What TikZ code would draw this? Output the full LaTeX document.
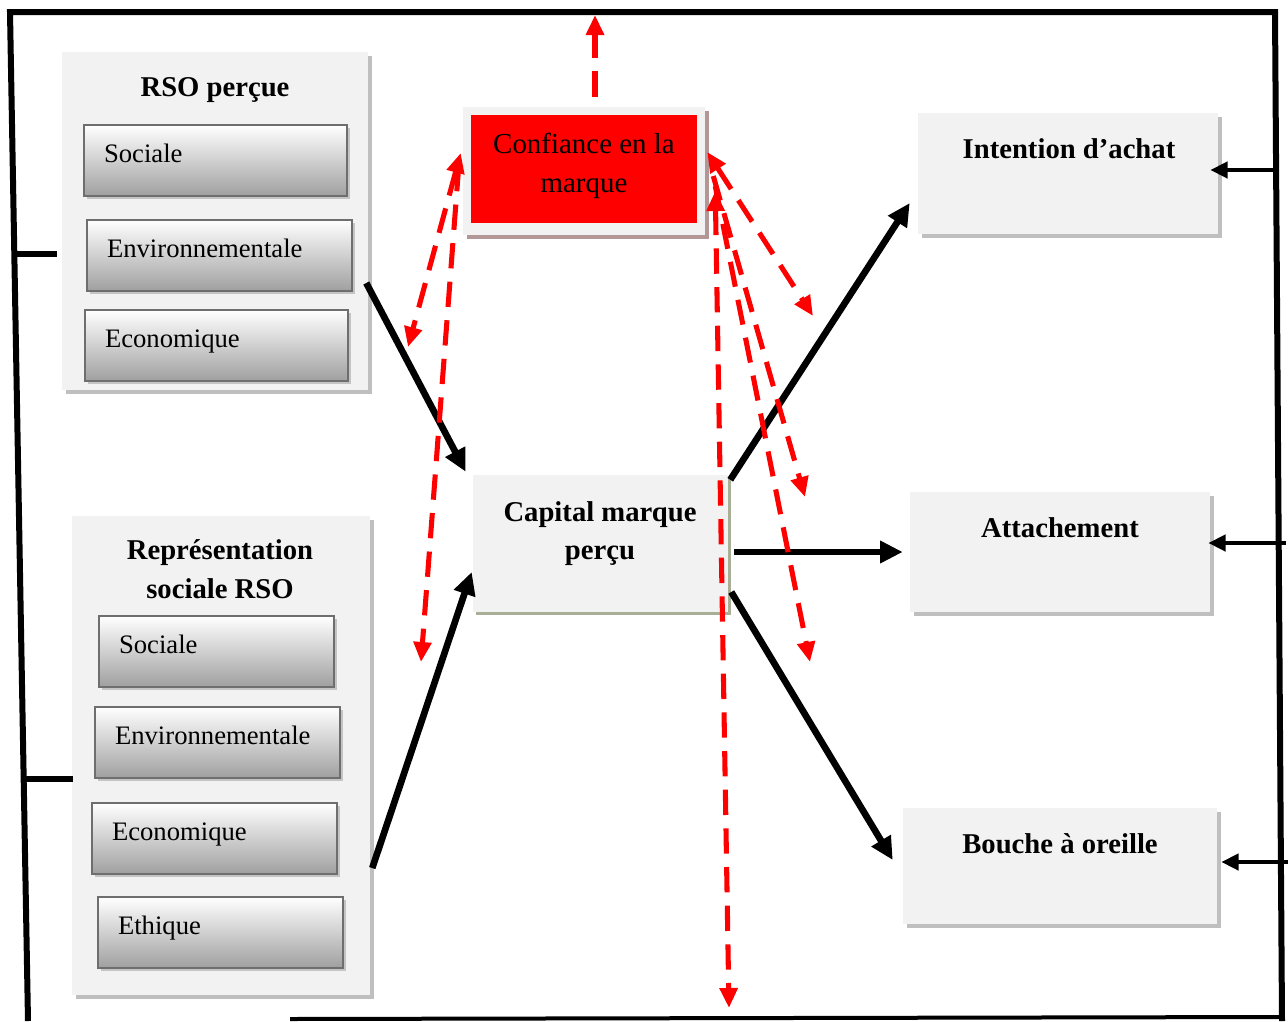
\documentclass[tikz,border=0pt]{standalone}
\usepackage{fontspec}
\setmainfont{Liberation Serif}
\usetikzlibrary{arrows.meta,shadows,calc}
\definecolor{boxfill}{HTML}{F2F2F2}
\definecolor{shadowgray}{HTML}{BFBFBF}
\definecolor{capshadow}{HTML}{A9AE97}
\definecolor{confshadow}{HTML}{B39696}
\definecolor{subborder}{HTML}{6E6E6E}
\definecolor{subshadow}{HTML}{C4C4C4}
\tikzset{
  redtip/.tip={Triangle[length=15pt,width=13pt]},
  blktip/.tip={Triangle[length=17pt,width=16pt]},
  stubtip/.tip={Triangle[length=13pt,width=12pt]},
  groupbox/.style={fill=boxfill, draw=none, inner sep=0pt,
    general shadow={fill=shadowgray, shadow xshift=3pt, shadow yshift=-3pt}},
  subbox/.style={draw=subborder, line width=1.5pt, top color=white, bottom color=gray!75,
    general shadow={fill=subshadow, shadow xshift=2.5pt, shadow yshift=-2.5pt},
    minimum height=53.25pt, inner xsep=15pt, inner ysep=0pt, align=left,
    text height=9.5pt, text depth=6.5pt, font=\fontsize{20}{24}\selectfont},
  titletext/.style={font=\bfseries\fontsize{21.5}{29}\selectfont, align=center, inner sep=0pt},
  plaintext/.style={font=\fontsize{21.7}{29}\selectfont, align=center, inner sep=0pt},
  border/.style={line width=4.5pt, line join=miter},
  blk/.style={line width=5pt, -blktip},
  stub/.style={line width=3.5pt, -stubtip},
  leftstub/.style={line width=4.5pt},
  reddash/.style={draw=red, line width=3.8pt, dash pattern=on 19pt off 10pt, -redtip},
}
\begin{document}
\begin{tikzpicture}[x=0.75pt,y=-0.75pt]
\useasboundingbox (0,0) rectangle (1288,1021);

% frame
\draw[border] (28,1021) -- (10,12) -- (1275,12) -- (1282,1021);
\draw[line width=3pt] (290,1019) -- (1282,1017);

% left groups
\node[groupbox, minimum width=229.5pt, minimum height=253.5pt] (rso) at (215,221) {};
\node[titletext] (rsot) at (215,90) {RSO perçue};
\node[subbox, text width=167.25pt] (s1) at (215.5,160.5) {Sociale};
\node[subbox, text width=168.75pt] (e1) at (219.5,255.5) {Environnementale};
\node[subbox, text width=167.25pt] (c1) at (216.5,345.5) {Economique};

\node[groupbox, minimum width=223.5pt, minimum height=359.25pt] (rep) at (221,755.5) {};
\node[titletext] (rept) at (220,569) {Représentation\\sociale RSO};
\node[subbox, text width=146.25pt] (s2) at (216.5,651.5) {Sociale};
\node[subbox, text width=153.75pt] (e2) at (217.5,742.5) {Environnementale};
\node[subbox, text width=153.75pt] (c2) at (214.5,838.5) {Economique};
\node[subbox, text width=153.75pt] (t2) at (220.5,932.5) {Ethique};

% confiance
\node[fill=boxfill, inner sep=0pt, minimum width=181.5pt, minimum height=96pt,
  general shadow={fill=confshadow, shadow xshift=3pt, shadow yshift=-3pt}] (conf) at (584,171) {};
\node[fill=red, inner sep=0pt, minimum width=169.5pt, minimum height=81pt] (confin) at (584,169) {};
\node[plaintext] (conft) at (584,166) {Confiance en la\\marque};

% capital
\node[fill=boxfill, inner sep=0pt, minimum width=191.25pt, minimum height=102.75pt,
  general shadow={fill=capshadow, shadow xshift=2.5pt, shadow yshift=-2.5pt}] (cap) at (600.5,543.5) {};
\node[titletext] (capt) at (600,533.5) {Capital marque\\perçu};

% outcomes
\node[groupbox, minimum width=225pt, minimum height=90.75pt] (int) at (1068,173.5) {};
\node[titletext] (intt) at (1069,149) {Intention d’achat};
\node[groupbox, minimum width=225pt, minimum height=90pt] (att) at (1060,552) {};
\node[titletext] (attt) at (1060,528) {Attachement};
\node[groupbox, minimum width=235.5pt, minimum height=87pt] (bou) at (1060,866) {};
\node[titletext] (bout) at (1060,844) {Bouche à oreille};

% left stubs
\coordinate (lb1) at (14,254);
\coordinate (lb2) at (24,779);
\draw[leftstub] (lb1) -- ($(rso.west)+(-5,33)$);
\draw[leftstub] (lb2) -- ($(rep.west)+(1,23.5)$);

% right stubs
\coordinate (rb1) at (1276,170);
\coordinate (rb2) at (1286,543);
\coordinate (rb3) at (1288,862);
\draw[stub] (rb1) -- ($(int.east)+(-8,-3.5)$);
\draw[stub] (rb2) -- ($(att.east)+(-2,-9)$);
\draw[stub] (rb3) -- ($(bou.east)+(4,-4)$);

% black arrows
\draw[blk] ($(rso.east)+(-2,62)$) -- ($(cap.north west)+(-7,-3)$);
\draw[blk] ($(rep.east)+(2,112.5)$) -- ($(cap.west)+(-1,28.5)$);
\draw[blk] ($(cap.north east)+(2,5)$) -- ($(int.west)+(-8,29.5)$);
\draw[blk] ($(cap.east)+(6,8.5)$) -- ($(att.west)+(-7,0)$);
\draw[blk] ($(cap.east)+(3,48.5)$) -- ($(bou.west)+(-10,-6)$);

% red dashed arrows
\coordinate (topend) at (595,15);
\coordinate (l1) at (408,347);
\coordinate (l2) at (421,662);
\coordinate (r1) at (813,316);
\coordinate (r2) at (805,497);
\coordinate (r3) at (810,662);
\coordinate (r4) at (729,1008);
\draw[reddash] ($(conf.north)+(11,-10)$) -- (topend);
\draw[reddash, redtip-redtip] ($(conf.west)+(-2,-18)$) -- (l1);
\draw[reddash] ($(conf.west)+(-4,-5)$) -- (l2);
\draw[reddash, redtip-redtip] ($(conf.east)+(2,-19)$) -- (r1);
\draw[reddash] ($(conf.east)+(8,5)$) -- (r2);
\draw[reddash] ($(conf.east)+(10,15)$) -- (r3);
\draw[reddash, redtip-redtip] ($(conf.east)+(10,20)$) -- (r4);
\end{tikzpicture}
\end{document}
